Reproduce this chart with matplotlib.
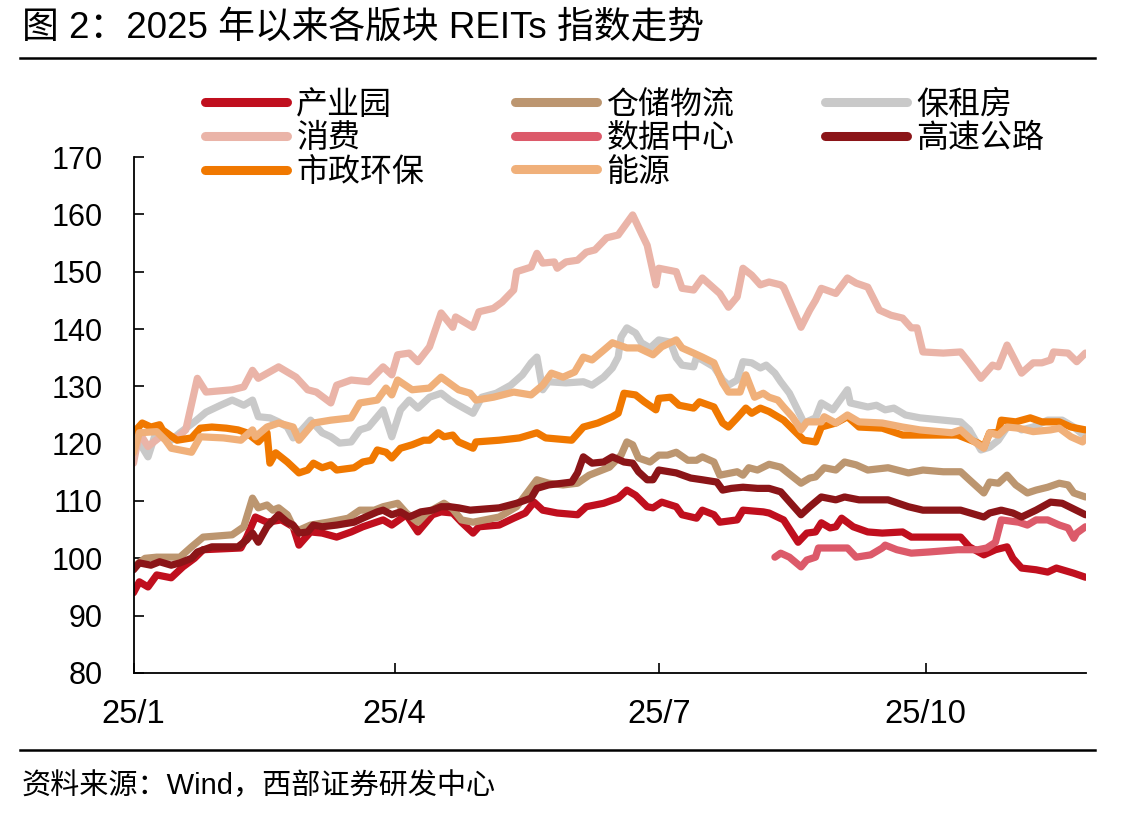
import numpy as np
import pandas as pd
import matplotlib
matplotlib.use("Agg")
import matplotlib.pyplot as plt
import matplotlib.dates as mdates
from matplotlib.lines import Line2D

plt.rcParams['font.family'] = ['Liberation Sans', 'Noto Sans CJK SC', 'DejaVu Sans']

# day offsets from 2025-01-01 and index values
cy_days = [0, 2, 5, 8, 13, 17, 21, 24, 37, 39, 42, 46, 51, 55, 57, 61, 65, 70, 75, 79, 86, 89, 94, 98,
           103, 106, 110, 113, 117, 119, 126, 131, 135, 138, 141, 146, 153, 156, 162, 167, 170, 173, 177,
           179, 182, 187, 189, 194, 196, 200, 202, 208, 210, 217, 219, 224, 229, 232, 235, 237, 240, 242,
           244, 248, 253, 258, 265, 268, 277, 285, 288, 293, 297, 301, 303, 306, 311, 315, 318, 324, 328]
cy_vals = [94.0, 95.9, 95.0, 97.1, 96.6, 98.5, 100.0, 101.5, 101.8, 103.7, 107.2, 106.3, 106.7, 105.5,
           102.3, 104.6, 104.4, 103.7, 104.6, 105.5, 106.7, 105.8, 107.6, 104.6, 107.6, 108.1, 107.9,
           106.3, 104.4, 105.5, 105.8, 107.0, 107.9, 109.8, 108.4, 107.9, 107.6, 109.0, 109.6, 110.5,
           111.9, 111.0, 109.0, 108.8, 109.8, 109.0, 107.6, 107.0, 108.4, 107.6, 106.3, 106.7, 108.4,
           108.1, 107.9, 106.7, 102.8, 104.4, 104.6, 106.2, 105.3, 105.5, 107.0, 105.5, 104.6, 104.4,
           104.6, 103.7, 103.7, 103.7, 102.0, 100.6, 101.5, 102.0, 100.0, 98.3, 98.0, 97.6, 98.3, 97.4, 96.7]

cc_days = [0, 4, 8, 16, 20, 24, 34, 38, 41, 43, 46, 48, 50, 53, 55, 57, 61, 67, 74, 78, 83, 86, 91, 94,
           98, 101, 107, 110, 113, 117, 126, 132, 135, 139, 143, 148, 153, 157, 164, 168, 170, 172, 174,
           178, 181, 184, 187, 191, 194, 196, 200, 202, 208, 210, 212, 215, 219, 223, 230, 233, 235, 238,
           242, 245, 249, 253, 260, 267, 272, 279, 285, 288, 293, 295, 298, 301, 304, 308, 311, 315, 319,
           322, 324, 328]
cc_vals = [98.5, 100.0, 100.2, 100.2, 102.0, 103.7, 104.1, 105.5, 110.5, 108.8, 109.3, 108.4, 108.8,
           107.6, 105.5, 104.9, 105.8, 106.3, 107.0, 108.4, 108.4, 109.0, 109.6, 107.9, 106.3, 107.9,
           109.6, 108.6, 106.7, 106.3, 107.2, 109.0, 111.0, 113.7, 113.1, 112.8, 113.1, 114.5, 115.9,
           118.0, 120.3, 119.8, 117.5, 116.8, 118.0, 118.0, 118.5, 117.1, 117.1, 117.7, 116.8, 114.5,
           115.1, 114.5, 115.8, 115.4, 116.4, 115.9, 113.1, 114.0, 114.2, 115.8, 115.4, 116.8, 116.3,
           115.4, 115.8, 114.9, 115.4, 115.1, 115.1, 113.7, 111.4, 113.3, 113.1, 114.5, 112.8, 111.4,
           111.9, 112.4, 113.1, 112.8, 111.4, 110.7]

bz_days = [0, 5, 8, 13, 16, 21, 25, 30, 34, 38, 41, 43, 47, 50, 53, 55, 58, 61, 65, 68, 71, 75, 78, 81,
           86, 89, 92, 95, 98, 102, 106, 109, 112, 117, 120, 125, 130, 134, 137, 139, 141, 143, 149, 155,
           158, 162, 165, 167, 168, 170, 173, 175, 178, 181, 185, 187, 189, 193, 194, 196, 200, 203, 205,
           208, 210, 213, 216, 218, 221, 223, 226, 230, 231, 235, 237, 241, 246, 247, 253, 256, 259, 262,
           266, 271, 279, 285, 288, 292, 295, 298, 302, 306, 310, 315, 320, 324, 328]
bz_vals = [121.9, 117.7, 122.4, 120.6, 121.9, 123.8, 125.5, 126.7, 127.6, 126.7, 127.6, 124.7, 124.5,
           123.8, 122.9, 121.0, 122.4, 124.1, 121.9, 121.2, 120.1, 120.3, 122.4, 122.9, 125.9, 121.2,
           125.9, 127.6, 126.2, 128.1, 128.8, 127.6, 126.7, 125.3, 128.1, 128.8, 130.2, 132.0, 134.1,
           135.1, 129.4, 130.8, 130.6, 130.8, 130.2, 131.6, 133.2, 135.1, 138.6, 140.2, 139.3, 137.6,
           136.7, 138.1, 137.7, 135.0, 133.7, 133.4, 135.1, 134.6, 133.4, 131.1, 130.2, 131.1, 134.3,
           134.1, 133.2, 133.7, 132.3, 130.8, 128.8, 124.7, 123.6, 124.5, 127.1, 125.9, 129.4, 127.1,
           126.4, 126.7, 125.9, 126.2, 125.0, 124.5, 124.1, 123.8, 122.4, 118.9, 119.4, 120.6, 123.6,
           122.4, 122.9, 124.1, 124.1, 122.9, 121.2]

xf_days = [0, 2, 5, 10, 15, 18, 22, 25, 34, 38, 41, 43, 50, 56, 60, 63, 68, 70, 75, 81, 86, 89, 91, 95,
           98, 102, 106, 110, 111, 117, 119, 124, 127, 131, 132, 137, 139, 141, 145, 146, 149, 153, 156,
           159, 163, 167, 172, 175, 177, 180, 181, 187, 189, 193, 196, 200, 202, 205, 208, 210, 213, 216,
           219, 223, 224, 230, 233, 235, 237, 242, 246, 249, 253, 257, 261, 265, 268, 270, 272, 279, 285,
           288, 292, 296, 298, 301, 306, 310, 313, 316, 317, 322, 325, 328]
xf_vals = [116.6, 121.9, 119.5, 121.5, 121.0, 122.4, 131.4, 129.0, 129.4, 129.9, 132.8, 131.4, 133.4,
           131.6, 129.4, 129.0, 127.1, 130.2, 131.1, 130.8, 133.4, 132.0, 135.5, 135.8, 134.3, 136.9,
           142.8, 140.3, 142.1, 140.3, 143.0, 143.6, 144.7, 146.8, 150.0, 150.8, 153.2, 151.5, 151.7,
           150.6, 151.7, 152.0, 153.4, 153.8, 155.9, 156.4, 159.9, 156.7, 154.6, 147.7, 150.6, 150.0,
           147.1, 146.8, 148.9, 147.1, 146.2, 143.8, 145.6, 150.6, 149.4, 147.7, 148.2, 147.7, 147.3,
           140.3, 143.3, 145.0, 147.1, 146.2, 148.9, 148.0, 147.3, 143.3, 142.4, 141.9, 140.2, 140.2,
           136.0, 135.8, 136.0, 134.1, 131.4, 133.7, 133.4, 137.2, 132.3, 134.1, 134.1, 134.6, 136.0,
           135.8, 134.3, 135.8]

sj_days = [221, 223, 226, 230, 232, 235, 236, 246, 249, 254, 258, 259, 263, 268, 274, 284, 291, 294,
           297, 299, 305, 308, 311, 315, 319, 322, 324, 325, 328]
sj_vals = [100.2, 100.9, 100.2, 98.5, 99.7, 100.2, 101.8, 101.8, 100.2, 100.6, 101.8, 102.3, 101.5,
           100.9, 101.1, 101.5, 101.5, 101.8, 102.8, 106.7, 106.3, 105.8, 106.7, 106.7, 105.8, 105.3,
           103.5, 104.4, 105.5]

gs_days = [0, 2, 6, 9, 13, 16, 20, 22, 27, 36, 39, 41, 43, 46, 50, 53, 55, 57, 60, 62, 65, 70, 76, 79,
           84, 86, 89, 92, 95, 99, 103, 106, 109, 112, 116, 126, 132, 137, 139, 143, 151, 153, 155, 158,
           162, 165, 169, 172, 174, 177, 179, 181, 187, 192, 196, 201, 203, 206, 210, 215, 219, 223, 230,
           233, 237, 242, 245, 250, 260, 267, 272, 285, 293, 295, 299, 303, 306, 311, 316, 320, 328]
gs_vals = [98.0, 99.2, 98.8, 99.4, 98.8, 99.2, 100.0, 101.1, 102.0, 102.0, 103.2, 104.4, 102.8, 105.5,
           107.6, 106.3, 105.8, 104.4, 104.6, 105.8, 105.5, 105.8, 106.3, 107.0, 108.1, 108.4, 107.6,
           108.1, 107.2, 108.1, 108.4, 109.0, 109.0, 108.8, 108.4, 108.8, 109.6, 110.5, 112.2, 112.8,
           113.3, 114.9, 117.7, 116.6, 116.8, 117.7, 116.8, 116.6, 115.1, 113.7, 113.7, 115.4, 114.9,
           114.0, 113.7, 113.3, 111.9, 112.2, 112.4, 112.2, 112.2, 111.6, 107.6, 109.0, 110.7, 110.2,
           110.7, 110.2, 110.2, 109.0, 108.4, 108.4, 107.2, 107.9, 108.4, 107.9, 107.2, 108.4, 109.8,
           109.6, 107.6]

sz_days = [0, 3, 6, 9, 10, 15, 20, 23, 27, 32, 36, 39, 43, 46, 47, 49, 53, 57, 60, 62, 65, 68, 70, 76,
           79, 82, 84, 87, 89, 92, 96, 100, 102, 105, 107, 110, 112, 117, 118, 126, 133, 139, 142, 151,
           155, 160, 165, 167, 169, 173, 176, 180, 181, 185, 188, 193, 195, 200, 203, 205, 208, 211, 213,
           216, 219, 224, 228, 231, 235, 237, 242, 246, 250, 258, 265, 277, 284, 291, 293, 295, 298, 299,
           304, 309, 313, 319, 323, 328]
sz_vals = [121.9, 123.6, 122.9, 123.3, 122.4, 120.6, 121.0, 122.7, 122.9, 122.7, 122.4, 121.9, 120.3,
           121.9, 116.6, 118.4, 116.8, 114.9, 115.4, 116.6, 115.8, 116.3, 115.4, 115.8, 116.8, 117.1,
           118.9, 118.5, 117.5, 119.2, 119.8, 120.6, 120.6, 121.9, 121.2, 121.5, 120.3, 119.2, 120.3,
           120.6, 121.0, 121.9, 121.0, 120.6, 122.9, 123.6, 124.7, 125.3, 128.8, 128.5, 127.3, 125.9,
           127.9, 128.1, 126.7, 126.2, 127.3, 126.4, 123.6, 122.9, 124.5, 126.2, 125.3, 126.2, 125.6,
           124.1, 122.1, 120.6, 120.3, 122.9, 123.6, 124.7, 122.9, 122.7, 121.5, 121.5, 121.5, 120.1,
           119.4, 121.9, 121.9, 124.1, 123.8, 124.5, 123.8, 123.8, 122.9, 122.4]

ny_days = [0, 2, 8, 11, 13, 16, 20, 23, 31, 37, 41, 42, 46, 50, 55, 57, 62, 68, 75, 78, 84, 87, 89, 91,
           96, 102, 106, 109, 112, 116, 118, 124, 131, 137, 141, 144, 148, 152, 155, 158, 162, 165, 170,
           174, 179, 182, 187, 189, 193, 196, 200, 203, 205, 209, 211, 214, 217, 219, 222, 224, 227, 230,
           232, 237, 238, 242, 246, 250, 258, 265, 271, 282, 285, 289, 293, 295, 298, 301, 305, 310, 316,
           319, 323, 327, 328]
ny_vals = [118.4, 121.9, 122.1, 120.6, 119.2, 118.9, 118.5, 121.2, 121.0, 120.6, 122.4, 121.2, 122.9,
           123.6, 122.9, 120.6, 123.6, 124.1, 124.5, 127.1, 127.6, 129.7, 128.5, 131.1, 129.4, 129.7,
           131.6, 130.5, 129.4, 128.8, 127.6, 128.1, 129.0, 128.5, 130.2, 132.3, 131.6, 132.5, 135.1,
           134.6, 136.3, 137.6, 136.7, 136.7, 135.5, 136.9, 138.1, 136.7, 135.8, 135.1, 134.1, 130.6,
           129.0, 129.0, 132.0, 128.1, 128.8, 128.1, 127.6, 126.4, 124.7, 122.4, 123.8, 123.8, 124.7,
           123.6, 125.0, 123.8, 123.6, 122.9, 122.4, 121.9, 122.4, 120.6, 119.2, 121.9, 121.5, 122.9,
           122.7, 122.1, 122.4, 122.7, 121.2, 120.3, 121.0]

series = [
    ('产业园', cy_days, cy_vals, '#C00F1E'),
    ('仓储物流', cc_days, cc_vals, '#BC9670'),
    ('保租房', bz_days, bz_vals, '#C9C9C9'),
    ('消费', xf_days, xf_vals, '#EAB4A8'),
    ('数据中心', sj_days, sj_vals, '#DC5A6A'),
    ('高速公路', gs_days, gs_vals, '#8B1518'),
    ('市政环保', sz_days, sz_vals, '#F07800'),
    ('能源', ny_days, ny_vals, '#F0B07A'),
]

start = pd.Timestamp('2025-01-01')

fig = plt.figure(figsize=(11.44, 8.17), dpi=100)
ax = fig.add_axes([0.1167, 0.1763, 0.8326, 0.6315])

handles = {}
for name, d, v, c in series:
    dates = start + pd.to_timedelta(d, unit='D')
    ln, = ax.plot(dates, v, color=c, lw=5.2, solid_joinstyle='round',
                  solid_capstyle='round', label=name)
    handles[name] = ln

ax.set_ylim(80, 170)
ax.set_yticks(range(80, 171, 10))
ax.set_xlim(start, start + pd.Timedelta(days=328.2))
xt = pd.to_datetime(['2025-01-01', '2025-04-01', '2025-07-01', '2025-10-01'])
ax.set_xticks(xt)
ax.set_xticklabels(['25/1', '25/4', '25/7', '25/10'])

for s in ['top', 'right']:
    ax.spines[s].set_visible(False)
for s in ['left', 'bottom']:
    ax.spines[s].set_linewidth(1.3)
ax.tick_params(axis='both', direction='in', length=7, width=1.2)
ax.tick_params(axis='y', pad=22, labelsize=22)
ax.tick_params(axis='x', pad=19, labelsize=23.5)

order = ['产业园', '消费', '市政环保', '仓储物流', '数据中心', '能源', '保租房', '高速公路']
leg_h = [Line2D([0], [0], color=handles[n].get_color(), lw=6.5, solid_capstyle='round') for n in order]
fig.legend(leg_h, order, ncol=3, loc='upper left', bbox_to_anchor=(0.1655, 0.909),
           frameon=False, fontsize=23, handlelength=2.55, handletextpad=0.3,
           columnspacing=2.85, labelspacing=0.11, borderpad=0)

fig.text(0.019, 1 - 28 / 817, '图 2：2025 年以来各版块 REITs 指数走势', fontsize=26.5, va='center', ha='left')
fig.text(0.019, 1 - 786 / 817, '资料来源：Wind，西部证券研发中心', fontsize=21, va='center', ha='left')

fig.add_artist(Line2D([20 / 1144, 1095 / 1144], [1 - 58 / 817, 1 - 58 / 817],
                      transform=fig.transFigure, color='black', lw=1.8))
fig.add_artist(Line2D([20 / 1144, 1095 / 1144], [1 - 750 / 817, 1 - 750 / 817],
                      transform=fig.transFigure, color='black', lw=1.8))

fig.savefig('out.png', dpi=100)
